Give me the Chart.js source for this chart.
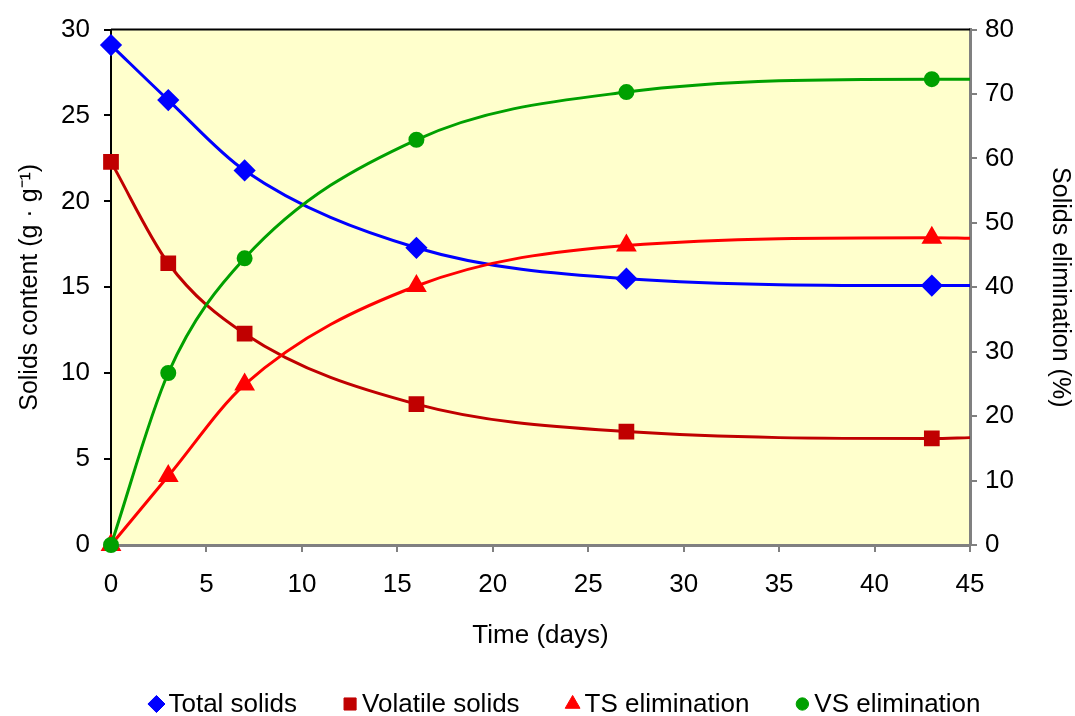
<!DOCTYPE html>
<html>
<head>
<meta charset="utf-8">
<script src="https://cdn.jsdelivr.net/npm/chart.js@4/dist/chart.umd.min.js"></script>
<style>
html, body { margin: 0; padding: 0; background: #fff; }
#wrap { width: 1075px; height: 716px; }
</style>
</head>
<body>
<div id="wrap"><canvas id="chart" width="1075" height="716"></canvas></div>
<script>
// sampling days, last entry (45) only carries the line to the edge
const days = [0, 3, 7, 16, 27, 43, 45];
const totalSolids = [29.1, 25.9, 21.8, 17.3, 15.5, 15.1, 15.1];
const volatileSolids = [22.3, 16.4, 12.3, 8.2, 6.6, 6.2, 6.25];
const tsElimination = [0, 10.7, 24.9, 40.2, 46.5, 47.7, 47.6];
const vsElimination = [0, 26.7, 44.5, 62.9, 70.3, 72.3, 72.3];
const markerDays = 6; // markers only on real samples

const FONT = "'Liberation Sans', Arial, sans-serif";

function pts(vals) {
  return vals.map((v, i) => ({ x: days[i], y: v }));
}

function series(label, vals, color, style, r, axis, order) {
  return {
    label, data: pts(vals), yAxisID: axis, order,
    borderColor: color, backgroundColor: color,
    pointBackgroundColor: color, pointBorderColor: color,
    borderWidth: 3, pointStyle: style, legendRadius: r * 0.95,
    pointRadius: ctx => ctx.dataIndex < markerDays ? r : 0,
    pointHoverRadius: 0,
    cubicInterpolationMode: 'monotone',
    clip: false
  };
}

const plotBg = {
  id: 'plotBg',
  beforeDraw(chart) {
    const { ctx, chartArea: a } = chart;
    ctx.save();
    ctx.fillStyle = '#FFFFCC';
    ctx.fillRect(a.left, a.top, a.right - a.left, a.bottom - a.top);
    ctx.restore();
  },
  afterDatasetsDraw(chart) {
    const { ctx, chartArea: a } = chart;
    ctx.save();
    ctx.strokeStyle = '#000';
    ctx.lineWidth = 2;
    ctx.beginPath();
    ctx.moveTo(a.left, a.top);
    ctx.lineTo(a.right, a.top);
    ctx.stroke();
    ctx.restore();
  }
};

// legend row under the axis title, in dataset order
const bottomLegend = {
  id: 'bottomLegend',
  afterDraw(chart) {
    const { ctx } = chart;
    const sets = chart.data.datasets;
    const y = 704, mark = 14, gapText = 5, gapItem = 46;
    ctx.save();
    ctx.font = '26px ' + FONT;
    ctx.textBaseline = 'middle';
    ctx.fillStyle = '#000';
    const widths = sets.map(d => mark + gapText + ctx.measureText(d.label).width);
    const total = widths.reduce((s, w) => s + w, 0) + gapItem * (sets.length - 1);
    let x = 565 - total / 2;
    sets.forEach((d, i) => {
      ctx.fillStyle = d.borderColor;
      ctx.strokeStyle = d.borderColor;
      ctx.lineWidth = 1;
      Chart.helpers.drawPoint(ctx, { pointStyle: d.pointStyle, radius: d.legendRadius, rotation: 0, borderWidth: 1 }, x + mark / 2, y);
      ctx.fillStyle = '#000';
      ctx.fillText(d.label, x + mark + gapText, y + 1);
      x += widths[i] + gapItem;
    });
    ctx.restore();
  }
};

new Chart(document.getElementById('chart'), {
  type: 'line',
  data: {
    datasets: [
      series('Total solids', totalSolids, '#0000FF', 'rectRot', 9, 'y', 3),
      series('Volatile solids', volatileSolids, '#C00000', 'rect', 9, 'y', 2),
      series('TS elimination', tsElimination, '#FF0000', 'triangle', 9, 'y2', 1),
      series('VS elimination', vsElimination, '#00A000', 'circle', 6.5, 'y2', 0)
    ]
  },
  options: {
    responsive: false,
    animation: false,
    layout: { padding: { top: 25, bottom: 56, left: 0, right: 0 } },
    plugins: {
      tooltip: { enabled: false },
      legend: { display: false }
    },
    scales: {
      x: {
        type: 'linear', min: 0, max: 45,
        ticks: { stepSize: 5, color: '#000', padding: 17, font: { family: FONT, size: 26 } },
        grid: { drawOnChartArea: false, tickLength: 7, color: '#808080', lineWidth: 2 },
        border: { color: '#808080', width: 3 },
        title: { display: true, text: 'Time (days)', color: '#000', font: { family: FONT, size: 26 }, padding: { top: 0, bottom: 9 } },
        afterFit: s => { s.height = 115; }
      },
      y: {
        position: 'left', min: 0, max: 30,
        ticks: { stepSize: 5, color: '#000', padding: 14, font: { family: FONT, size: 26 } },
        grid: { drawOnChartArea: false, tickLength: 7, color: '#000', lineWidth: 2 },
        border: { color: '#000', width: 2 },
        title: { display: true, text: 'Solids content (g · g⁻¹)', color: '#000', font: { family: FONT, size: 25 }, padding: { top: 15, bottom: 0 } },
        afterFit: s => { s.width = 111; }
      },
      y2: {
        position: 'right', min: 0, max: 80,
        ticks: { stepSize: 10, color: '#000', padding: 8, font: { family: FONT, size: 26 } },
        grid: { drawOnChartArea: false, tickLength: 7, color: '#808080', lineWidth: 2 },
        border: { color: '#808080', width: 3 },
        title: { display: true, text: 'Solids elimination (%)', color: '#000', font: { family: FONT, size: 25 }, padding: { top: 0, bottom: 0 } },
        afterFit: s => { s.width = 105; }
      }
    }
  },
  plugins: [plotBg, bottomLegend]
});
</script>
</body>
</html>
